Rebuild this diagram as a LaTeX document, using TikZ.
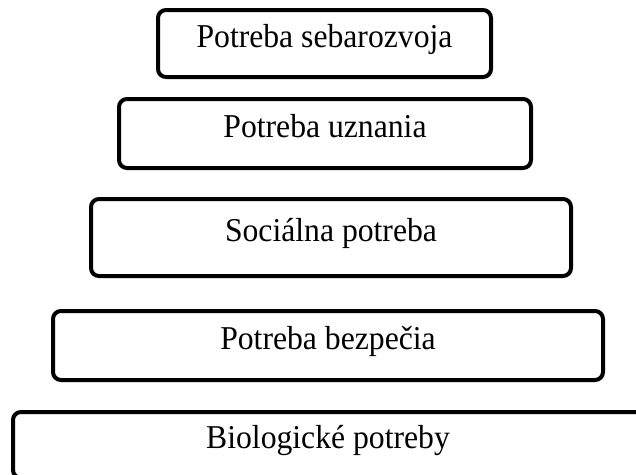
\documentclass[tikz,border=0pt]{standalone}
\usepackage{fontspec}
\setmainfont{Liberation Serif}[FakeStretch=0.95]
\begin{document}
\begin{tikzpicture}[x=0.75pt,y=-0.75pt,
  level/.style 2 args={draw,line width=3pt,rounded corners=6pt,inner sep=0pt,
    minimum width=#1*0.75pt,minimum height=#2*0.75pt,
    text height=0.8em,text depth=0.23em,
    font=\fontsize{25}{30}\selectfont}]
\clip (0,0) rectangle (636,475);
\fill[white] (0,0) rectangle (636,475);

\node[level={333}{67}] (selfdev) at (324.5,43.5) {Potreba sebarozvoja};
\node[level={412}{69}] (esteem) at (325,133.5) {Potreba uznania};
\node[level={480}{77}] (social) at (331,237.5) {Sociálna potreba};
\node[level={550}{69}] (safety) at (328,345.5) {Potreba bezpečia};
\node[level={630}{66}] (bio) at (328,445) {Biologické potreby};

\end{tikzpicture}
\end{document}
